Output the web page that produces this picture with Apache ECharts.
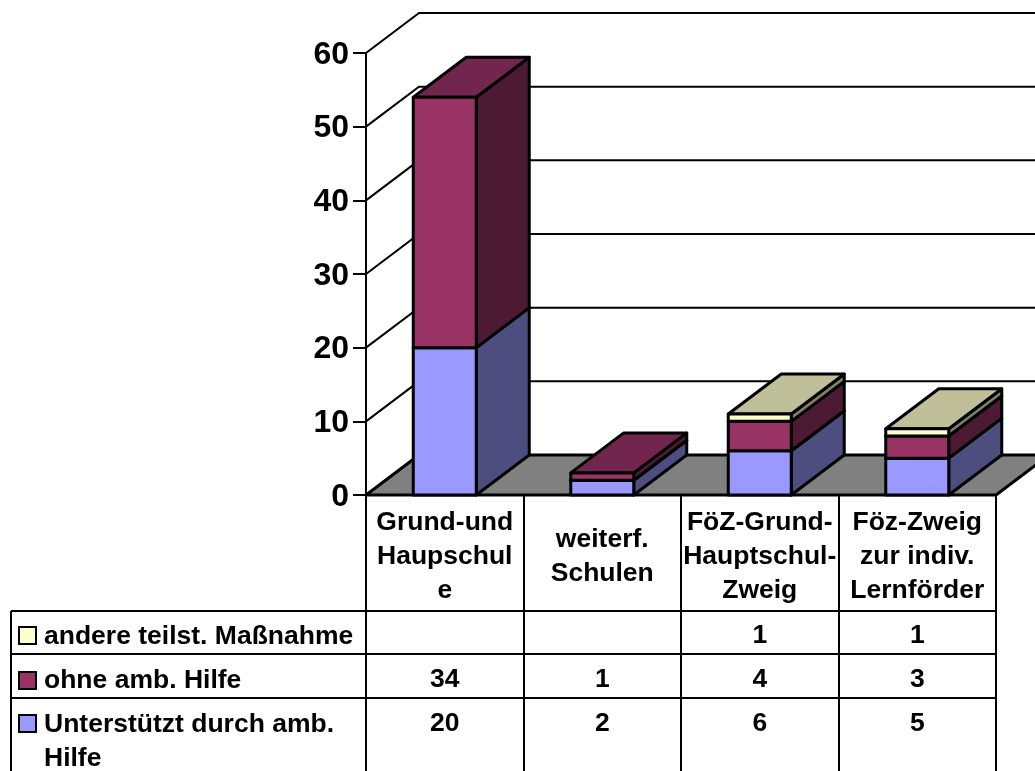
<!DOCTYPE html>
<html>
<head>
<meta charset="utf-8">
<style>
  html, body { margin: 0; padding: 0; background: #fff; }
  #chart { width: 1035px; height: 771px; overflow: hidden; }
</style>
<script src="https://cdn.jsdelivr.net/npm/echarts@6/dist/echarts.min.js"></script>
</head>
<body>
<div id="chart"></div>
<script>
const categories = ['Grund-und\nHaupschul\ne', 'weiterf.\nSchulen', 'FöZ-Grund-\nHauptschul-\nZweig', 'Föz-Zweig\nzur indiv.\nLernförder']
const yTicks = [0, 10, 20, 30, 40, 50, 60]

const unterstuetzt = [20, 2, 6, 5]
const ohneHilfe = [34, 1, 4, 3]
const andere = [null, null, 1, 1]

const unterstuetztName = 'Unterstützt durch amb.\nHilfe'
const ohneHilfeName = 'ohne amb. Hilfe'
const andereName = 'andere teilst. Maßnahme'

const FONT = '"Liberation Sans", Arial, sans-serif'
const DEPTH_X = 53
const DEPTH_Y = -40
const BAR_RATIO = 0.4
const LINE = { stroke: '#000', lineWidth: 2 }

const chart = echarts.init(document.getElementById('chart'), null, { renderer: 'canvas' })

// back wall and left wall lines, one per y tick
const renderWall = (params, api) => {
  const left = params.coordSys.x
  const y = api.coord([0, api.value(1)])[1]
  return {
    type: 'polyline',
    shape: { points: [[left, y], [left + DEPTH_X, y + DEPTH_Y], [left + params.coordSys.width + DEPTH_X, y + DEPTH_Y]] },
    style: { ...LINE, fill: null }
  }
}

const renderFloor = (params, api) => {
  const s = params.coordSys
  const y = api.coord([0, 0])[1]
  return {
    type: 'polygon',
    shape: { points: [[s.x, y], [s.x + s.width, y], [s.x + s.width + DEPTH_X, y + DEPTH_Y], [s.x + DEPTH_X, y + DEPTH_Y]] },
    style: { ...LINE, lineWidth: 3, lineJoin: 'round', fill: '#808080' }
  }
}

const face = (points, fill) => ({ type: 'polygon', shape: { points }, style: { stroke: '#000', lineWidth: 3, fill, lineJoin: 'round' } })

// one stacked segment: front, side, top
const renderBlock = colors => (params, api) => {
  const cat = api.value(0)
  const from = api.value(1)
  const to = api.value(2)
  if (!(to > from)) return null
  const half = api.size([1, 0])[0] * BAR_RATIO / 2
  const cx = api.coord([cat, 0])[0]
  const yb = api.coord([cat, from])[1]
  const yt = api.coord([cat, to])[1]
  const l = cx - half
  const r = cx + half
  return {
    type: 'group',
    children: [
      face([[r, yb], [r + DEPTH_X, yb + DEPTH_Y], [r + DEPTH_X, yt + DEPTH_Y], [r, yt]], colors.side),
      face([[l, yt], [r, yt], [r + DEPTH_X, yt + DEPTH_Y], [l + DEPTH_X, yt + DEPTH_Y]], colors.top),
      face([[l, yb], [r, yb], [r, yt], [l, yt]], colors.front)
    ]
  }
}

const stackData = (values, below) => values.map((v, i) => {
  const base = below.reduce((sum, arr) => sum + (arr[i] || 0), 0)
  return [i, base, v == null ? base : base + v]
})

const blockSeries = (name, values, below, colors) => ({
  name,
  type: 'custom',
  z: 5,
  clip: false,
  encode: { x: 0, y: [1, 2] },
  data: stackData(values, below),
  renderItem: renderBlock(colors)
})

// table below the plot
const TABLE_LEFT = 11
const PLOT_LEFT = 366
const COL_W = 157.5
const rowLines = [611, 654, 698]
const rows = [
  { name: andereName, values: andere, color: '#FFFFCC', y: 636, keyY: 627 },
  { name: ohneHilfeName, values: ohneHilfe, color: '#993366', y: 680, keyY: 672 },
  { name: unterstuetztName, values: unterstuetzt, color: '#9999FF', y: 724, keyY: 715 }
]
const tableText = { fontFamily: FONT, fontWeight: 'bold', fontSize: 26.5, fill: '#000' }

const tableGraphic = []
rowLines.forEach(y => {
  tableGraphic.push({ type: 'line', shape: { x1: TABLE_LEFT, y1: y, x2: PLOT_LEFT + COL_W * 4, y2: y }, style: LINE })
})
tableGraphic.push({ type: 'line', shape: { x1: TABLE_LEFT, y1: rowLines[0], x2: TABLE_LEFT, y2: 771 }, style: LINE })
rows.forEach(row => {
  tableGraphic.push({ type: 'rect', shape: { x: 19, y: row.keyY, width: 17, height: 17 }, style: { ...LINE, fill: row.color } })
  tableGraphic.push({
    type: 'text',
    x: 44,
    y: row.y,
    style: { ...tableText, text: row.name, lineHeight: 34, verticalAlign: 'top', y: -16 }
  })
  row.values.forEach((v, i) => {
    if (v == null) return
    tableGraphic.push({
      type: 'text',
      x: PLOT_LEFT + COL_W * (i + 0.5),
      y: row.y,
      style: { ...tableText, text: String(v), align: 'center', verticalAlign: 'middle' }
    })
  })
})

const option = {
  animation: false,
  backgroundColor: '#fff',
  grid: { left: 366, top: 53, width: 630, height: 442, containLabel: false },
  xAxis: {
    type: 'category',
    data: categories,
    axisLine: { lineStyle: { color: '#000', width: 2 } },
    axisTick: { show: true, length: 280, lineStyle: { color: '#000', width: 2 } },
    axisLabel: {
      interval: 0,
      hideOverlap: false,
      margin: 62,
      color: '#000',
      fontFamily: FONT,
      fontWeight: 'bold',
      fontSize: 26.5,
      lineHeight: 34,
      align: 'center',
      verticalAlign: 'middle'
    },
    splitLine: { show: false }
  },
  yAxis: {
    type: 'value',
    min: 0,
    max: 60,
    interval: 10,
    axisLine: { show: true, lineStyle: { color: '#000', width: 2 } },
    axisTick: { show: true, length: 13, lineStyle: { color: '#000', width: 2 } },
    axisLabel: {
      margin: 17,
      formatter: '{v|{value}}',
      rich: { v: { padding: [4, 0, 0, 0], color: '#000', fontFamily: FONT, fontWeight: 'bold', fontSize: 32 } }
    },
    splitLine: { show: false }
  },
  graphic: tableGraphic,
  series: [
    {
      type: 'custom',
      z: 1,
      clip: false,
      silent: true,
      encode: { x: 0, y: 1 },
      data: yTicks.map(v => [0, v]),
      renderItem: renderWall
    },
    {
      type: 'custom',
      z: 2,
      clip: false,
      silent: true,
      encode: { x: 0, y: 1 },
      data: [[0, 0]],
      renderItem: renderFloor
    },
    blockSeries('Unterstützt durch amb. Hilfe', unterstuetzt, [], { front: '#9999FF', side: '#4D4D80', top: '#73739F' }),
    blockSeries(ohneHilfeName, ohneHilfe, [unterstuetzt], { front: '#993366', side: '#4D1A33', top: '#73264D' }),
    blockSeries(andereName, andere, [unterstuetzt, ohneHilfe], { front: '#FFFFCC', side: '#808066', top: '#BFBF99' })
  ]
}

chart.setOption(option)
window.addEventListener('resize', () => chart.resize())
</script>
</body>
</html>
